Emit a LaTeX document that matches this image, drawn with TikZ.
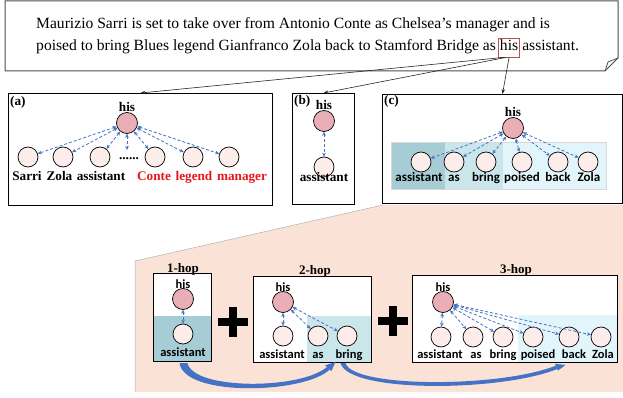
\documentclass[tikz,border=0pt]{standalone}
\usepackage{fontspec}
\setmainfont{Liberation Serif}
\newfontfamily\sfb{Carlito}
\usetikzlibrary{calc,arrows.meta}
\definecolor{hisfill}{HTML}{E9AEB6}
\definecolor{wfill}{HTML}{FCEDEB}
\definecolor{arrowblue}{HTML}{4472C4}
\definecolor{dteal}{HTML}{A6CDD5}
\definecolor{mteal}{HTML}{CBE6EB}
\definecolor{lteal}{HTML}{E2F5FA}
\definecolor{peach}{HTML}{FAE3D6}
\definecolor{hisred}{HTML}{C0504D}
\definecolor{wred}{HTML}{E8161B}
\begin{document}
\begin{tikzpicture}[x=1pt,y=-1pt,
 panel/.style={draw=black,line width=1pt,inner sep=0pt,anchor=north west},
 hisc/.style={circle,draw=black,line width=0.7pt,fill=hisfill,minimum size=21pt,inner sep=0pt},
 wc/.style={circle,draw=black,line width=0.7pt,fill=wfill,minimum size=20pt,inner sep=0pt},
 serl/.style={font=\fontsize{13.2}{13.2}\selectfont\bfseries,inner sep=0pt,anchor=base},
 hopl/.style={font=\fontsize{13}{13}\selectfont\bfseries,inner sep=0pt,anchor=base},
 sanl/.style={font=\sfb\bfseries\fontsize{13}{13}\selectfont,inner sep=0pt,anchor=base},
 sansm/.style={font=\sfb\bfseries\fontsize{12.5}{12.5}\selectfont,inner sep=0pt,anchor=base},
 toptext/.style={font=\fontsize{15.6}{15.6}\selectfont,inner sep=0pt,anchor=base west},
 att/.style={{Stealth[length=4pt,width=3.6pt]}-{Stealth[length=4pt,width=3.6pt]},dash pattern=on 3pt off 2pt,draw=arrowblue,line width=0.8pt},
 ptr/.style={-{Stealth[length=5pt,width=3.5pt]},line width=0.6pt,draw=black!85},
 plusbar/.style={line width=8.5pt,draw=black}
]
\useasboundingbox (0,0) rectangle (623,398);
% ---------------- top sentence box
\draw[draw=black!70,line width=1pt] (5,1) -- (618,1) -- (618,58) -- (605,71) -- (5,71) -- cycle;
\draw[draw=black!70,line width=0.8pt] (605,71) -- (608,62) -- (618,58);
\node[toptext] (l1) at (36,29) {Maurizio Sarri is set to take over from Antonio Conte as Chelsea’s manager and is};
\node[toptext] (l2) at (36,51) {poised to bring Blues legend Gianfranco Zola back to Stamford Bridge as};
\node[toptext,draw=hisred,line width=0.8pt,inner xsep=1.5pt,inner ysep=2pt,text height=11pt,text depth=4pt] (hw) at ($(l2.base east)+(2,0)$) {his};
\node[toptext] (l3) at ($(hw.base east)+(2,0)$) {assistant.};
% ---------------- peach region
\fill[peach] (135,261) -- (383,205) -- (623,205) -- (623,392) -- (135,392) -- cycle;
\draw[black!30,line width=0.5pt] (135,392) -- (135,261) -- (383,205);
% ---------------- panels
\node[panel,minimum width=264pt,minimum height=112pt] (pa) at (8,93) {};
\node[panel,minimum width=62pt,minimum height=111pt] (pb) at (292,93) {};
\fill[dteal] (391,142) rectangle (445,189);
\fill[mteal] (445,142) rectangle (503,189);
\fill[lteal] (503,142) rectangle (606,189);
\draw[black!15,line width=0.4pt] (391,142) rectangle (606,189);
\node[panel,minimum width=240pt,minimum height=109pt] (pc) at (382,94) {};
\draw[ptr] ($(hw.south)+(-5,0)$) -- (pa.north);
\draw[ptr] ($(hw.south)+(-3,0)$) -- (pb.north);
\draw[ptr] (hw.south) -- (pc.north);
% ---------------- (a)
\node[serl,anchor=north west] at (10,96) {(a)};
\node[serl] at (127,112) {his};
\node[hisc] (ha) at (127,123) {};
\foreach \n/\x in {1/28,2/63,3/100,4/155,5/193,6/229}{\node[wc] (a\n) at (\x,157) {};}
\node[serl] (adots) at (129,160) {......};
\coordinate (dtop) at (127,150);
\node[serl] at (27,180) {Sarri};
\node[serl] at (59.5,180) {Zola};
\node[serl] at (101,180) {assistant};
\node[serl,text=wred] at (154,180) {Conte};
\node[serl,text=wred] at (194,180) {legend};
\node[serl,text=wred] at (242,180) {manager};
\foreach \n in {1,...,6}{\draw[att] (ha) -- (a\n);}
\draw[att] (ha) -- (dtop);
% ---------------- (b)
\node[serl,anchor=north west] at (294,95) {(b)};
\node[serl] at (324,110) {his};
\node[hisc] (hb) at (324,121) {};
\node[wc] (b1) at (324,167) {};
\node[serl] at (324,182) {assistant};
\draw[att] (hb) -- (b1);
% ---------------- (c)
\node[serl,anchor=north west] at (384,95) {(c)};
\node[serl] at (513,117) {his};
\node[hisc] (hc) at (513,128) {};
\foreach \n/\x/\lx/\w in {1/421/419/assistant,2/454/454/as,3/486/486/bring,4/522/522/poised,5/558/558/back,6/588/589/Zola}{
  \node[wc] (c\n) at (\x,162) {};
  \node[sanl] at (\lx,182) {\w};
  \draw[att] (hc) -- (c\n);
}
% ---------------- bottom: hop boxes
\fill[dteal] (153,316) rectangle (211,361);
\fill[white] (153,273) rectangle (211,316);
\fill[white] (253,276) rectangle (371,362);
\fill[mteal] (307,316) rectangle (371,362);
\fill[white] (412,275) rectangle (617,362);
\fill[lteal] (518,315) rectangle (617,362);
\node[panel,minimum width=58pt,minimum height=88pt] (hop1) at (153,273) {};
\node[panel,minimum width=118pt,minimum height=86pt] (hop2) at (253,276) {};
\node[panel,minimum width=205pt,minimum height=87pt] (hop3) at (412,275) {};
\node[hopl] at (183,272.5) {1-hop};
\node[hopl] at (315,274) {2-hop};
\node[hopl] at (516,273) {3-hop};
% 1-hop
\node[sansm] at (183,288) {his};
\node[hisc] (h1) at (183,299) {};
\node[wc] (h1a) at (183,334) {};
\node[sansm] at (183,356) {assistant};
\draw[att] (h1) -- (h1a);
% 2-hop
\node[sansm] at (283,291) {his};
\node[hisc] (h2) at (283,302) {};
\foreach \n/\x/\lx/\w in {1/283/282/assistant,2/318/318/as,3/347/349/bring}{
  \node[wc] (h2\n) at (\x,336) {};
  \node[sansm] at (\lx,358) {\w};
  \draw[att] (h2) -- (h2\n);
}
% 3-hop
\node[sansm] at (443,291) {his};
\node[hisc] (h3) at (443,302) {};
\foreach \n/\x/\lx/\w in {1/441/440/assistant,2/473/476/as,3/503/503/bring,4/533/538/poised,5/569/574/back,6/601/603/Zola}{
  \node[wc] (h3\n) at (\x,337) {};
  \node[sansm] at (\lx,358) {\w};
  \draw[att] (h3) -- (h3\n);
}
% plus signs
\coordinate (plus1) at (233,322);
\coordinate (plus2) at (393,321);
\foreach \p in {plus1,plus2}{
  \draw[plusbar] ($(\p)+(-15,0)$) -- ($(\p)+(15,0)$);
  \draw[plusbar] ($(\p)+(0,-15)$) -- ($(\p)+(0,15)$);
}
% curved arrows
\fill[arrowblue] ($(hop1.south)+(-3,1)$) .. controls (184,397) and (303,394) .. (329.5,369.8) -- (327,367) .. controls (300,390) and (193,390) .. ($(hop1.south)+(5,1)$) -- cycle;
\fill[arrowblue] (331.3,371.2) -- ($(hop2.south)+(23,-1)$) -- (325.1,365.4) -- cycle;
\fill[arrowblue] ($(hop2.south)+(28,0)$) .. controls (348,393) and (500,392) .. (557.3,369) -- (556,365.6) .. controls (500,388) and (352,388) .. ($(hop2.south)+(33,0)$) -- cycle;
\fill[arrowblue] (557.9,370.6) -- ($(hop3.south)+(50.5,2)$) -- (555.1,363.8) -- cycle;
\end{tikzpicture}
\end{document}
